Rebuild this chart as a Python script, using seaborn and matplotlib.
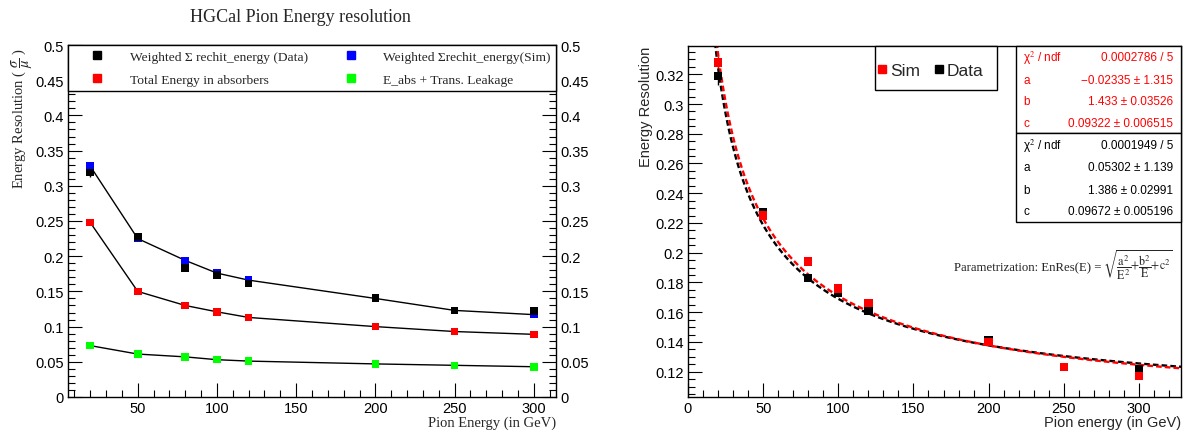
import numpy as np
import pandas as pd
import matplotlib
matplotlib.use("Agg")
import matplotlib.pyplot as plt
from matplotlib.lines import Line2D
from matplotlib.patches import Rectangle
from matplotlib.ticker import MultipleLocator, FuncFormatter
import seaborn as sns

# ---------------- data ----------------
energies = [20, 50, 80, 100, 120, 200, 250, 300]
res_data = [0.319, 0.227, 0.183, 0.173, 0.161, 0.141, 0.123, 0.122]
err_data = [0.006, 0.003, 0.002, 0.002, 0.002, 0.002, 0.002, 0.002]
res_sim = [0.328, 0.225, 0.194, 0.176, 0.166, 0.140, 0.123, 0.117]
err_sim = [0.004, 0.002, 0.002, 0.002, 0.002, 0.001, 0.001, 0.001]
res_abs = [0.248, 0.150, 0.130, 0.121, 0.113, 0.100, 0.093, 0.089]
err_abs = [0.004, 0.002, 0.001, 0.001, 0.001, 0.001, 0.001, 0.001]
res_leak = [0.073, 0.061, 0.057, 0.053, 0.051, 0.047, 0.045, 0.043]

label_data = "Weighted \u03a3 rechit_energy (Data)"
label_sim = "Weighted \u03a3rechit_energy(Sim)"
label_abs = "Total Energy in absorbers"
label_leak = "E_abs + Trans. Leakage"

# fit parameters (sim = red, data = black)
fit_sim = {"a": -0.02335, "b": 1.433, "c": 0.09322}
fit_data = {"a": 0.05302, "b": 1.386, "c": 0.09672}
stats_sim = [("\u03c7$^2$ / ndf", "0.0002786 / 5"), ("a", "\u22120.02335 \u00b1 1.315"),
             ("b", "1.433 \u00b1 0.03526"), ("c", "0.09322 \u00b1 0.006515")]
stats_data = [("\u03c7$^2$ / ndf", "0.0001949 / 5"), ("a", "0.05302 \u00b1 1.139"),
              ("b", "1.386 \u00b1 0.02991"), ("c", "0.09672 \u00b1 0.005196")]

# ---------------- style ----------------
sns.set_theme(style="ticks")
plt.rcParams["font.family"] = ["Liberation Sans", "DejaVu Sans"]
plt.rcParams["mathtext.fontset"] = "stix"
SERIF = ["Liberation Serif", "DejaVu Serif"]

W, H = 1185, 431
fig = plt.figure(figsize=(W / 100, H / 100), dpi=100)
fig.patch.set_facecolor("white")
axL = fig.add_axes([68 / W, 1 - 398 / H, (556 - 68) / W, (398 - 46) / H])
axR = fig.add_axes([688 / W, 1 - 398 / H, (1181 - 688) / W, (398 - 47) / H])

fmt = FuncFormatter(lambda v, p: f"{round(v, 4):g}")

# ---------------- left panel ----------------
lines_df = pd.concat([
    pd.DataFrame({"energy": energies, "resolution": res_sim, "series": "sim"}),
    pd.DataFrame({"energy": energies, "resolution": res_abs, "series": "abs"}),
    pd.DataFrame({"energy": energies, "resolution": res_leak, "series": "leak"}),
])
sns.lineplot(data=lines_df, x="energy", y="resolution", units="series", estimator=None,
             color="black", linewidth=1.0, ax=axL, legend=False, zorder=2)

for res, err, col in [(res_sim, err_sim, "#0000ff"), (res_abs, err_abs, "#ff0000"),
                      (res_data, err_data, "black")]:
    axL.errorbar(energies, res, yerr=err, fmt="none", ecolor=col, elinewidth=1.0,
                 capsize=0, zorder=3)

pts_df = pd.concat([
    pd.DataFrame({"energy": energies, "resolution": res_sim, "series": label_sim}),
    pd.DataFrame({"energy": energies, "resolution": res_abs, "series": label_abs}),
    pd.DataFrame({"energy": energies, "resolution": res_leak, "series": label_leak}),
    pd.DataFrame({"energy": energies, "resolution": res_data, "series": label_data}),
])
palL = {label_sim: "#0000ff", label_abs: "#ff0000", label_leak: "#00ff00", label_data: "black"}
sns.scatterplot(data=pts_df, x="energy", y="resolution", hue="series", palette=palL,
                marker="s", s=30, edgecolor="none", linewidth=0, ax=axL, legend=False, zorder=4)

axL.set_xlim(6, 314)
axL.set_ylim(0, 0.5)
axL.xaxis.set_major_locator(MultipleLocator(50))
axL.xaxis.set_minor_locator(MultipleLocator(10))
axL.yaxis.set_major_locator(MultipleLocator(0.05))
axL.yaxis.set_minor_locator(MultipleLocator(0.01))
axL.xaxis.set_major_formatter(fmt)
axL.yaxis.set_major_formatter(fmt)
axL.tick_params(which="both", direction="in", left=True, right=True, bottom=True, top=False,
                labelright=True, labelsize=10.5, pad=3, colors="black")
axL.tick_params(which="major", length=10, width=0.8)
axL.tick_params(which="minor", length=5, width=0.8)
for s in axL.spines.values():
    s.set_linewidth(1.0)
    s.set_color("black")
axL.set_xlabel("Pion Energy (in GeV)", family=SERIF, fontsize=10.5, loc="right", labelpad=0)
axL.set_ylabel(r"Energy Resolution ( $\dfrac{\sigma}{\mu}$ )", family=SERIF, fontsize=10.5,
               loc="top")
axL.yaxis.set_label_coords(-0.068, 0.995)

handlesL = [Line2D([], [], marker="s", linestyle="none", color=c, markersize=5.5)
            for c in ["black", "#ff0000", "#0000ff", "#00ff00"]]
legL = axL.legend(handlesL, [label_data, label_abs, label_sim, label_leak], ncol=2,
                  loc="upper left", bbox_to_anchor=(0, 0, 1, 1), mode="expand",
                  borderaxespad=0, frameon=True, fancybox=False, framealpha=1,
                  edgecolor="black", prop={"family": SERIF, "size": 9.7},
                  handlelength=3.6, handletextpad=0.6, labelspacing=0.8, borderpad=0.38)
legL.get_frame().set_linewidth(1.0)

fig.text(300 / W, 1 - 18 / H, "HGCal Pion Energy resolution", family=SERIF, fontsize=13,
         ha="center", va="center")

# ---------------- right panel ----------------
E = np.linspace(12, 330, 400)

def resfun(e, p):
    return np.sqrt(p["a"] ** 2 / e ** 2 + p["b"] ** 2 / e + p["c"] ** 2)

fit_df = pd.DataFrame({"energy": np.concatenate([E, E]),
                       "resolution": np.concatenate([resfun(E, fit_data), resfun(E, fit_sim)]),
                       "fit": ["data"] * len(E) + ["sim"] * len(E)})
sns.lineplot(data=fit_df[fit_df.fit == "data"], x="energy", y="resolution", color="black",
             linewidth=1.7, linestyle=(0, (2.4, 1.3)), ax=axR, legend=False, zorder=2)
sns.lineplot(data=fit_df[fit_df.fit == "sim"], x="energy", y="resolution", color="#ff0000",
             linewidth=1.7, linestyle=(0, (2.4, 1.3)), ax=axR, legend=False, zorder=2)

axR.errorbar(energies, res_data, yerr=err_data, fmt="none", ecolor="black", elinewidth=1.0,
             capsize=0, zorder=3)
axR.errorbar(energies, res_sim, yerr=err_sim, fmt="none", ecolor="#ff0000", elinewidth=1.0,
             capsize=0, zorder=3)
ptsR = pd.concat([
    pd.DataFrame({"energy": energies, "resolution": res_data, "series": "Data"}),
    pd.DataFrame({"energy": energies, "resolution": res_sim, "series": "Sim"}),
])
sns.scatterplot(data=ptsR, x="energy", y="resolution", hue="series",
                palette={"Data": "black", "Sim": "#ff0000"}, marker="s", s=36,
                edgecolor="none", linewidth=0, ax=axR, legend=False, zorder=4)

axR.set_xlim(0, 328)
axR.set_ylim(0.103, 0.339)
axR.xaxis.set_major_locator(MultipleLocator(50))
axR.xaxis.set_minor_locator(MultipleLocator(10))
axR.yaxis.set_major_locator(MultipleLocator(0.02))
axR.yaxis.set_minor_locator(MultipleLocator(0.005))
axR.xaxis.set_major_formatter(fmt)
axR.yaxis.set_major_formatter(fmt)
axR.tick_params(which="both", direction="in", left=True, right=False, bottom=True, top=False,
                labelsize=10.5, pad=3, colors="black")
axR.tick_params(which="major", length=10, width=0.8)
axR.tick_params(which="minor", length=5, width=0.8)
for s in axR.spines.values():
    s.set_linewidth(1.0)
    s.set_color("black")
axR.set_xlabel("Pion energy (in GeV)", fontsize=10.5, loc="right", labelpad=0)
axR.set_ylabel("Energy Resolution", fontsize=10.5, loc="top", labelpad=2)

ax_w = 1181 - 688
ax_h = 398 - 47
def fx(px):
    return (px - 688) / ax_w
def fy(py):
    return (398 - py) / ax_h

# legend box for Sim / Data
axR.add_patch(Rectangle((fx(875), fy(91)), fx(997) - fx(875), fy(47) - fy(91),
                        transform=axR.transAxes, facecolor="white", edgecolor="black",
                        linewidth=1.0, zorder=5, clip_on=False))
handlesR = [Line2D([], [], marker="s", linestyle="none", color=c, markersize=5.5)
            for c in ["#ff0000", "black"]]
legR = axR.legend(handlesR, ["Sim", "Data"], ncol=2, loc="center left",
                  bbox_to_anchor=(fx(876), fy(71)), borderaxespad=0, frameon=False,
                  fontsize=12.5, handlelength=0.5, handletextpad=0.2, columnspacing=0.85,
                  borderpad=0.1)
legR.set_zorder(6)

# stats boxes
for (top, bot, rows, col, ys) in [(47, 134, stats_sim, "#ff0000", [58, 81, 102, 124]),
                                  (134, 223, stats_data, "black", [146, 168, 191, 212])]:
    axR.add_patch(Rectangle((fx(1016), fy(bot)), 1 - fx(1016), fy(top) - fy(bot),
                            transform=axR.transAxes, facecolor="white", edgecolor="black",
                            linewidth=1.0, zorder=5, clip_on=False))
    for (k, v), y in zip(rows, ys):
        axR.text(fx(1023), fy(y), k, color=col, fontsize=8.5, ha="left", va="center",
                 transform=axR.transAxes, zorder=6)
        axR.text(fx(1173), fy(y), v, color=col, fontsize=8.5, ha="right", va="center",
                 transform=axR.transAxes, zorder=6)

# parametrization text: formula right-aligned at the frame, prefix placed just left of it
math_t = axR.text(fx(1173), fy(265),
                  r"$\sqrt{\dfrac{\mathrm{a}^2}{\mathrm{E}^2}{+}"
                  r"\dfrac{\mathrm{b}^2}{\mathrm{E}}{+}\mathrm{c}^2}$",
                  family=SERIF, fontsize=8.6, ha="right", va="center",
                  transform=axR.transAxes, zorder=6)
fig.canvas.draw()
bb = math_t.get_window_extent(renderer=fig.canvas.get_renderer())
left_px = bb.x0
axR.text(fx(left_px - 2), fy(268), "Parametrization: EnRes(E) =", family=SERIF, fontsize=9.2,
         ha="right", va="center", transform=axR.transAxes, zorder=6)

fig.savefig("out.png", dpi=100, facecolor="white")
